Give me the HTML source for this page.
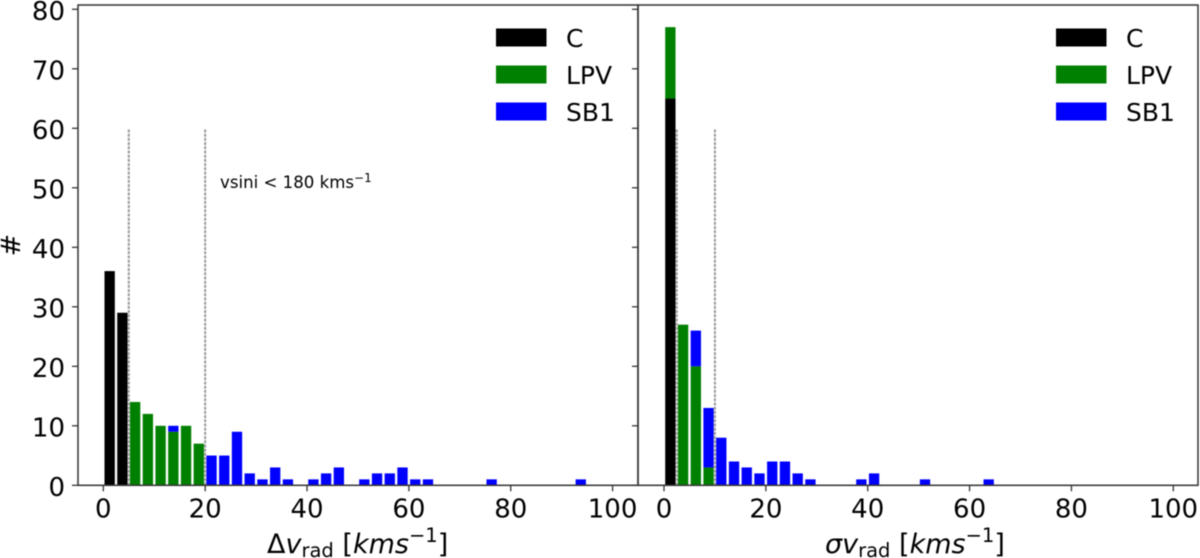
<!DOCTYPE html>
<html lang="en">
<head>
<meta charset="utf-8">
<title>Radial velocity histograms</title>
<style>
html,body{margin:0;padding:0;background:#fff;width:1200px;height:558px;overflow:hidden}
svg{display:block;filter:blur(0.45px)}
text{font-family:"DejaVu Sans","Liberation Sans",sans-serif;fill:#000}
.tick{font-size:26px}
.leg{font-size:25px}
.lab{font-size:27px}
.sub{font-size:19.5px}
.sup{font-size:19.5px}
.it{font-style:italic}
</style>
</head>
<body>
<svg id="chart" xmlns="http://www.w3.org/2000/svg" width="1200" height="558" viewBox="0 0 1200 558">
  <g id="panels"></g>

  <text class="lab" transform="translate(20,245) rotate(-90)" text-anchor="middle">#</text>

  <text class="lab" x="267" y="553">&#916;<tspan class="it">v</tspan><tspan class="sub" dy="4">rad</tspan><tspan dy="-4"> [</tspan><tspan class="it">kms</tspan><tspan class="sup" dy="-11">&#8722;1</tspan><tspan dy="11">]</tspan></text>
  <text class="lab" x="825" y="553"><tspan class="it">&#963;v</tspan><tspan class="sub" dy="4">rad</tspan><tspan dy="-4"> [</tspan><tspan class="it">kms</tspan><tspan class="sup" dy="-11">&#8722;1</tspan><tspan dy="11">]</tspan></text>

  <text x="220" y="188" font-size="16.6">vsini &lt; 180 kms<tspan font-size="12" dy="-6">&#8722;1</tspan></text>

  <g>
    <rect x="496" y="28.5" width="50.5" height="18" fill="#000"/>
    <rect x="496" y="65.5" width="50.5" height="18" fill="#008000"/>
    <rect x="496" y="102.5" width="50.5" height="18" fill="#0000ff"/>
    <text class="leg" x="566" y="47">C</text>
    <text class="leg" x="566" y="84">LPV</text>
    <text class="leg" x="566" y="121">SB1</text>
  </g>
  <g>
    <rect x="1056" y="28.5" width="50.5" height="18" fill="#000"/>
    <rect x="1056" y="65.5" width="50.5" height="18" fill="#008000"/>
    <rect x="1056" y="102.5" width="50.5" height="18" fill="#0000ff"/>
    <text class="leg" x="1126" y="47">C</text>
    <text class="leg" x="1126" y="84">LPV</text>
    <text class="leg" x="1126" y="121">SB1</text>
  </g>
</svg>
<script>
var binWidth = 2.5;
var xTicks = [0, 20, 40, 60, 80, 100];
var yTicks = [0, 10, 20, 30, 40, 50, 60, 70, 80];

var leftC   = [36, 29];
var leftLPV = [0, 0, 14, 12, 10, 9, 10, 7];
var leftSB1 = [0, 0, 0, 0, 0, 1, 0, 0, 5, 5, 9, 2, 1, 3, 1, 0, 1, 2, 3, 0, 1, 2, 2, 3, 1, 1, 0, 0, 0, 0, 1, 0, 0, 0, 0, 0, 0, 1];
var leftThresholds = [5, 20];

var rightC   = [65];
var rightLPV = [12, 27, 20, 3];
var rightSB1 = [0, 0, 6, 10, 8, 4, 3, 2, 4, 4, 2, 1, 0, 0, 0, 1, 2, 0, 0, 0, 1, 0, 0, 0, 0, 1];
var rightThresholds = [2.5, 10];

var thresholdTop = 60;

var SVGNS = 'http://www.w3.org/2000/svg';
var root = document.getElementById('panels');
var PX_PER_X = 5.093;
var BAR_FRACTION = 0.81;

function yScale(v) { return 485.3 - v * 5.95; }

function make(tag, attrs, parent) {
  var el = document.createElementNS(SVGNS, tag);
  for (var k in attrs) { el.setAttribute(k, attrs[k]); }
  parent.appendChild(el);
  return el;
}

function drawPanel(side, box, zeroX, cVals, lpvVals, sb1Vals, thresholds) {
  function xScale(v) { return zeroX + v * PX_PER_X; }

  var g = make('g', {}, root);
  
  

  var binCount = Math.max(cVals.length, lpvVals.length, sb1Vals.length);
  for (var i = 0; i < binCount; i++) {
    var c = cVals[i] || 0;
    var l = lpvVals[i] || 0;
    var s = sb1Vals[i] || 0;
    var full = xScale(binWidth);
    var binPx = full - xScale(0);
    var w = binPx * BAR_FRACTION;
    var bx = xScale(i * binWidth) + (binPx - w) / 2;
    var stack = [[c, '#000000', 'c'], [l, '#008000', 'lpv'], [s, '#0000ff', 'sb1']];
    var base = 0;
    for (var j = 0; j < stack.length; j++) {
      var count = stack[j][0];
      if (count > 0) {
        var bar = make('rect', {
          x: bx, y: yScale(base + count), width: w,
          height: yScale(base) - yScale(base + count), fill: stack[j][1]
        }, g);
        
        
        base += count;
      }
    }
  }

  thresholds.forEach(function (t) {
    var line = make('line', {
      x1: xScale(t), x2: xScale(t), y1: yScale(0), y2: yScale(thresholdTop),
      stroke: '#999999', 'stroke-width': 2, 'stroke-dasharray': '3 1.2'
    }, g);
    
    
  });

  var frame = make('rect', {
    x: box.left, y: 5, width: box.right - box.left, height: 480.3,
    fill: 'none', stroke: '#333', 'stroke-width': 1.5
  }, g);
  
  

  xTicks.forEach(function (t) {
    var mark = make('line', {
      x1: xScale(t), x2: xScale(t), y1: 485.3, y2: 491.3, stroke: '#333', 'stroke-width': 1.3
    }, g);
    
    
    var label = make('text', {
      x: xScale(t), y: 517.5, 'text-anchor': 'middle', 'class': 'tick'
    }, g);
    
    
    label.textContent = t;
  });

  yTicks.forEach(function (t) {
    var mark = make('line', {
      x1: box.left - 6, x2: box.left, y1: yScale(t), y2: yScale(t), stroke: '#333', 'stroke-width': 1.3
    }, g);
    
    
    if (side === 'left') {
      var label = make('text', {
        x: box.left - 13, y: yScale(t) + 10.8, 'text-anchor': 'end', 'class': 'tick'
      }, g);
      
      
      label.textContent = t;
    }
  });
}

drawPanel('left', { left: 78, right: 638 }, 103.3, leftC, leftLPV, leftSB1, leftThresholds);
drawPanel('right', { left: 638, right: 1198 }, 664, rightC, rightLPV, rightSB1, rightThresholds);
</script>
</body>
</html>
